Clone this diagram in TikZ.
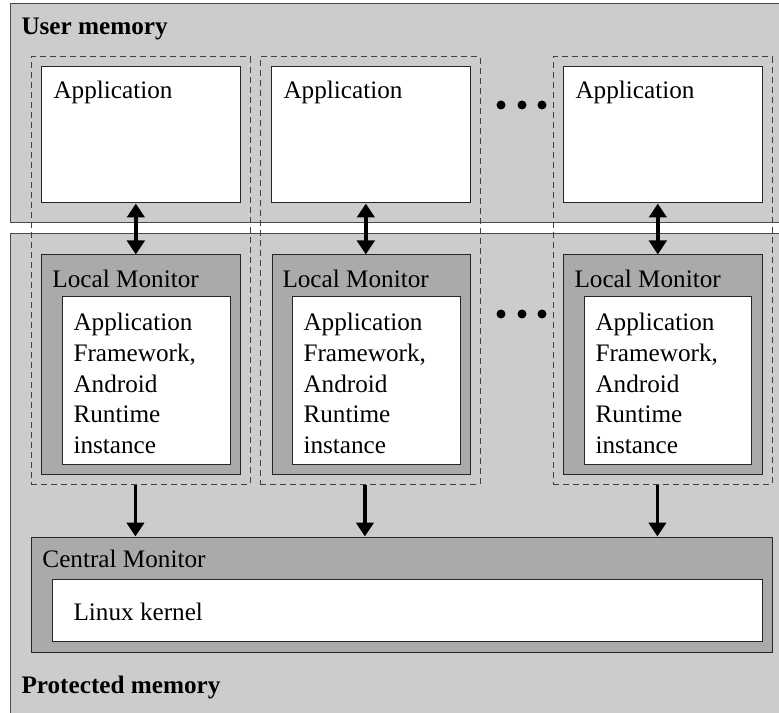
\documentclass[tikz,border=0pt]{standalone}
\usepackage{fontspec}
\setmainfont{Liberation Serif}
\usetikzlibrary{fit,arrows.meta}

\definecolor{memgray}{HTML}{CCCCCC}
\definecolor{mongray}{HTML}{AAAAAA}
\definecolor{edgegray}{HTML}{4A4A4A}

\tikzset{every picture/.style={line width=0.75pt}}
\tikzset{
  membox/.style={draw=edgegray, fill=memgray, inner sep=0pt},
  appbox/.style={draw=black!85, fill=white, inner sep=0pt},
  monbox/.style={draw=black!85, fill=mongray, inner sep=0pt},
  colbox/.style={draw=black!75, dash pattern=on 4.5pt off 3pt, inner sep=0pt},
  lbl/.style={anchor=base west, inner sep=0pt, font=\fontsize{18.9}{22.9}\selectfont},
  head/.style={lbl, font=\fontsize{18.9}{22.9}\selectfont\bfseries},
  fwtext/.style={lbl, anchor=north west, align=left},
  biarrow/.style={line width=2.6pt, {Triangle[length=10.5pt,width=13pt]}-{Triangle[length=10.5pt,width=13pt]}},
  dnarrow/.style={line width=2.6pt, -{Triangle[length=10.5pt,width=13pt]}},
  dot/.style={circle, fill=black, inner sep=0pt, minimum size=6.75pt}
}

\begin{document}
\begin{tikzpicture}[x=0.75pt,y=0.75pt,yscale=-1,xscale=1]
\clip (0,0) rectangle (779,713);

%Memory areas
\node [membox, fit={(10,234) (800,730)}] (prot) {};
\node [membox, fit={(10,4) (800,223)}] (user) {};

%Dashed columns
\node [colbox, fit={(31,57) (250,484)}] (col1) {};
\node [colbox, fit={(260,57) (480,484)}] (col2) {};
\node [colbox, fit={(553,57) (772,484)}] (col3) {};

%Applications
\node [appbox, fit={(41,67) (240,203)}] (app1) {};
\node [appbox, fit={(271,67) (470,203)}] (app2) {};
\node [appbox, fit={(563,67) (762,203)}] (app3) {};

%Local monitors
\node [monbox, fit={(41,255) (240,474)}] (lm1) {};
\node [monbox, fit={(272,255) (470,474)}] (lm2) {};
\node [monbox, fit={(563,255) (762,474)}] (lm3) {};
\node [appbox, fit={(62,297) (230,464)}] (fw1) {};
\node [appbox, fit={(292,297) (460,464)}] (fw2) {};
\node [appbox, fit={(584,297) (751,464)}] (fw3) {};

%Central monitor
\node [monbox, fit={(31,537) (772,652)}] (cm) {};
\node [appbox, fit={(52,579) (762,641)}] (kernel) {};

% Text Node
\node [head] (userlbl) at (21,35) {User memory};
% Text Node
\node [head] (protlbl) at (21,693) {Protected memory};
% Text Node
\node [lbl] (app1lbl) at (53,99) {Application};
% Text Node
\node [lbl] (app2lbl) at (283,99) {Application};
% Text Node
\node [lbl] (app3lbl) at (575,99) {Application};
% Text Node
\node [lbl] (lm1lbl) at (52,287) {Local Monitor};
% Text Node
\node [lbl] (lm2lbl) at (282,287) {Local Monitor};
% Text Node
\node [lbl] (lm3lbl) at (574,287) {Local Monitor};
% Text Node
\node [fwtext] (fw1lbl) at (73,313) {Application\\Framework,\\Android\\Runtime\\instance};
% Text Node
\node [fwtext] (fw2lbl) at (303,313) {Application\\Framework,\\Android\\Runtime\\instance};
% Text Node
\node [fwtext] (fw3lbl) at (595,313) {Application\\Framework,\\Android\\Runtime\\instance};
% Text Node
\node [lbl] (cmlbl) at (42,567) {Central Monitor};
% Text Node
\node [lbl] (kernellbl) at (73,620) {Linux kernel};

%Dots
\foreach \dx in {501,522,542} {
  \node [dot] at (\dx,105) {};
  \node [dot] at (\dx,314) {};
}

%Arrows
\foreach \i in {1,2,3} {
  \coordinate (up\i) at ([xshift=-3.5pt]app\i.south);
  \coordinate (dn\i) at ([xshift=-3.8pt]col\i.south);
  \draw [biarrow] (up\i) -- (up\i |- lm\i.north);
  \draw [dnarrow] (dn\i) -- (dn\i |- cm.north);
}

\end{tikzpicture}
\end{document}
